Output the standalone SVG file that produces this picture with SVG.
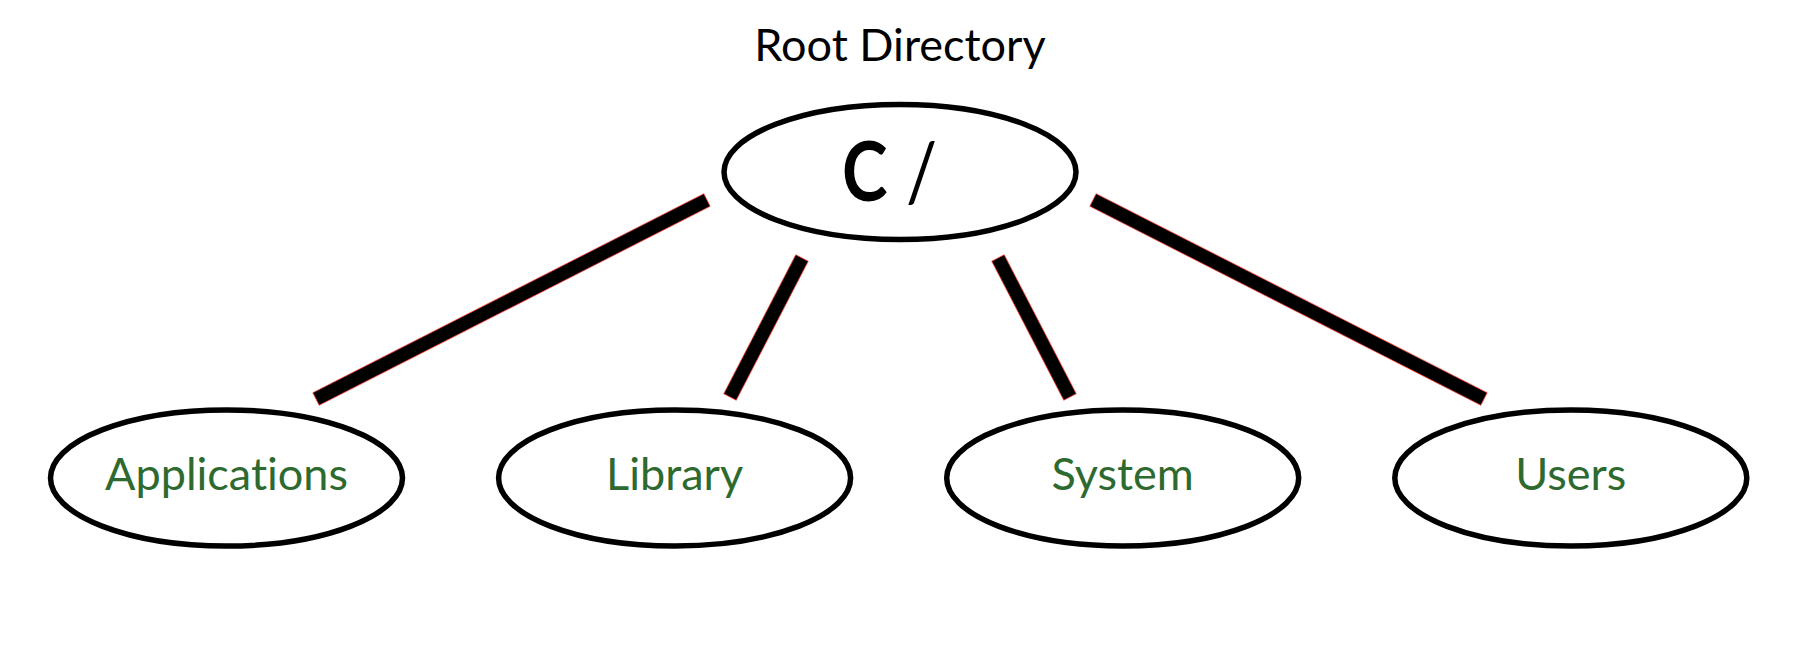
<svg xmlns="http://www.w3.org/2000/svg" width="1800" height="648" viewBox="0 0 1800 648">
<style>
text{font-variant-ligatures:none;font-feature-settings:"liga" 0}
.node ellipse{fill:#fff;stroke:#000;stroke-width:5.5}
.lbl{font-family:Lato,"Liberation Sans",sans-serif;font-size:45px;fill:#2e6a30;text-anchor:middle}
.conn polygon{fill:#000;stroke:#ff3b30;stroke-width:0.8}
.title{font-family:Lato,"Liberation Sans",sans-serif;font-size:45px;fill:#000;text-anchor:middle}
.big{font-family:Lato,"Liberation Sans",sans-serif;font-size:82px;fill:#000}
</style>
<rect width="1800" height="648" fill="#fff"/>
<text class="title" x="900" y="61">Root Directory</text>
<g id="connectors" class="conn">
<polygon points="710.17,206.24 319.17,405.24 312.83,392.76 703.83,193.76"/>
<polygon points="808.22,261.22 736.22,400.22 723.78,393.78 795.78,254.78"/>
<polygon points="1004.22,254.78 1076.22,393.78 1063.78,400.22 991.78,261.22"/>
<polygon points="1089.83,206.24 1480.83,405.24 1487.17,392.76 1096.17,193.76"/>
</g>
<g id="root" class="node">
<ellipse cx="900" cy="172" rx="176" ry="67.5"/>
<text class="big" transform="translate(842,201) scale(0.84,1)" x="0" y="0"><tspan font-weight="bold">C</tspan><tspan dx="22">/</tspan></text>
</g>
<g id="applications" class="node">
<ellipse cx="226.5" cy="478" rx="176" ry="68"/>
<text class="lbl" x="226.5" y="490">Applications</text>
</g>
<g id="library" class="node">
<ellipse cx="674.6" cy="478" rx="176" ry="68"/>
<text class="lbl" x="674.6" y="490">Library</text>
</g>
<g id="system" class="node">
<ellipse cx="1122.7" cy="478" rx="176" ry="68"/>
<text class="lbl" x="1122.7" y="490">System</text>
</g>
<g id="users" class="node">
<ellipse cx="1570.8" cy="478" rx="176" ry="68"/>
<text class="lbl" x="1570.8" y="490">Users</text>
</g>
</svg>
